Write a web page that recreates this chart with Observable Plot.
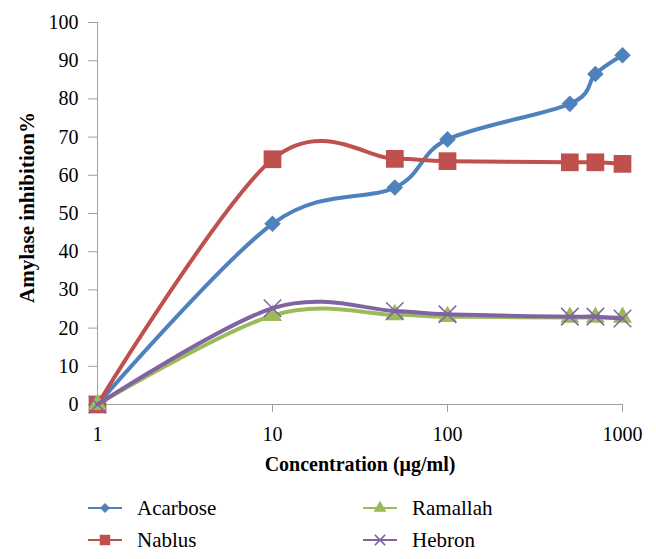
<!DOCTYPE html>
<html><head><meta charset="utf-8">
<script src="https://cdn.jsdelivr.net/npm/d3@7"></script>
<script src="https://cdn.jsdelivr.net/npm/@observablehq/plot@0.6"></script>
<style>
body{margin:0;background:#fff;}
#wrap{position:relative;width:656px;height:559px;font-family:"Liberation Serif","Times New Roman",serif;background:#fff;}
#wrap svg.plot{position:absolute;left:0;top:0;}
#wrap svg text{font-family:"Liberation Serif","Times New Roman",serif;}
.leg{position:absolute;display:flex;align-items:center;font-size:21px;color:#000;height:26px;line-height:26px;font-family:"Liberation Serif","Times New Roman",serif;}
.leg svg{margin-right:15px;}
</style></head><body><div id="wrap"></div>
<script>
const concentrations = [1, 10, 50, 100, 500, 700, 1000];
const seriesNames = ["Acarbose", "Nablus", "Ramallah", "Hebron"];
const acarbose = [0, 47.3, 56.8, 69.4, 78.7, 86.5, 91.4];
const nablus = [0, 64.2, 64.3, 63.7, 63.4, 63.4, 63.0];
const ramallah = [0, 23.3, 23.5, 23.0, 22.8, 22.8, 22.8];
const hebron = [0, 25.2, 24.5, 23.6, 23.0, 23.0, 22.5];
const xTicks = [1, 10, 100, 1000];
const yTicks = [0, 10, 20, 30, 40, 50, 60, 70, 80, 90, 100];
const xTitle = "Concentration (\u03BCg/ml)";
const yTitle = "Amylase inhibition%";

const colors = ["#4F81BD", "#C0504D", "#9BBB59", "#8064A2"];
const values = [acarbose, nablus, ramallah, hebron];
const symbolCfg = [
  {symbol: "square", r: 6.6, rotate: 45},
  {symbol: "square", r: 10},
  {symbol: "triangle", r: 7},
  {symbol: "times", r: 8}
];
const serif = "'Liberation Serif', 'Times New Roman', serif";

const marks = [
  Plot.ruleY([0], {stroke: "#a0a0a0", strokeWidth: 1}),
  Plot.ruleX([1], {stroke: "#a0a0a0", strokeWidth: 1}),
  Plot.axisY({ticks: yTicks, tickSize: 9, tickPadding: 10, stroke: "#a0a0a0", fill: "#000", label: null, fontSize: 20}),
  Plot.axisX({ticks: xTicks, tickSize: 8, tickPadding: 14, stroke: "#a0a0a0", fill: "#000", label: null, tickFormat: d => String(d), fontSize: 20})
];

seriesNames.forEach((name, k) => {
  const rows = concentrations.map((c, i) => ({c, v: values[k][i], name}));
  marks.push(Plot.line(rows, {x: "c", y: "v", stroke: colors[k], strokeWidth: 4, curve: "cardinal"}));
  const s = symbolCfg[k];
  if (s.symbol === "times") {
    marks.push(Plot.dot(rows, {x: "c", y: "v", symbol: "times", r: s.r, stroke: colors[k], strokeWidth: 1.5, fill: "none"}));
  } else {
    marks.push(Plot.dot(rows, {x: "c", y: "v", symbol: s.symbol, r: s.r, rotate: s.rotate || 0, fill: colors[k], stroke: "none"}));
  }
});

marks.push(Plot.text([xTitle], {frameAnchor: "bottom", dy: 66, text: d => d, textAnchor: "middle", fontWeight: "bold", fontSize: 20, fill: "#000"}));
marks.push(Plot.text([yTitle], {frameAnchor: "left", dx: -70, dy: -6, rotate: -90, text: d => d, textAnchor: "middle", fontWeight: "bold", fontSize: 21, fill: "#000"}));

const chart = Plot.plot({
  width: 656,
  height: 490,
  marginLeft: 97,
  marginRight: 34,
  marginTop: 22,
  marginBottom: 86,
  x: {type: "log", domain: [1, 1000]},
  y: {domain: [0, 100]},
  style: {fontFamily: serif, fontSize: "20px", background: "white", color: "#000", overflow: "visible"},
  marks
});
const wrap = document.getElementById("wrap");
wrap.appendChild(chart);

// legend
const legPos = [
  {left: 88, top: 508},
  {left: 88, top: 540},
  {left: 363, top: 508},
  {left: 363, top: 540}
];
const legSym = [
  {type: d3.symbolSquare, size: 50, rotate: 45, fill: true},
  {type: d3.symbolSquare, size: 110, rotate: 0, fill: true},
  {type: d3.symbolTriangle, size: 70, rotate: 0, fill: true},
  {type: d3.symbolTimes, size: 70, rotate: 0, fill: false}
];
seriesNames.forEach((name, k) => {
  const div = document.createElement("div");
  div.className = "leg";
  div.style.left = legPos[k].left + "px";
  div.style.top = (legPos[k].top - 13) + "px";
  const svg = d3.create("svg").attr("width", 34).attr("height", 26);
  svg.append("line").attr("x1", 0).attr("x2", 34).attr("y1", 13).attr("y2", 13)
    .attr("stroke", colors[k]).attr("stroke-width", 2);
  const ls = legSym[k];
  const p = svg.append("path").attr("d", d3.symbol(ls.type, ls.size)())
    .attr("transform", `translate(17,13) rotate(${ls.rotate})`);
  if (ls.fill) p.attr("fill", colors[k]); else p.attr("fill", "none").attr("stroke", colors[k]).attr("stroke-width", 1.5);
  div.appendChild(svg.node());
  const span = document.createElement("span");
  span.textContent = name;
  div.appendChild(span);
  wrap.appendChild(div);
});
</script></body></html>
